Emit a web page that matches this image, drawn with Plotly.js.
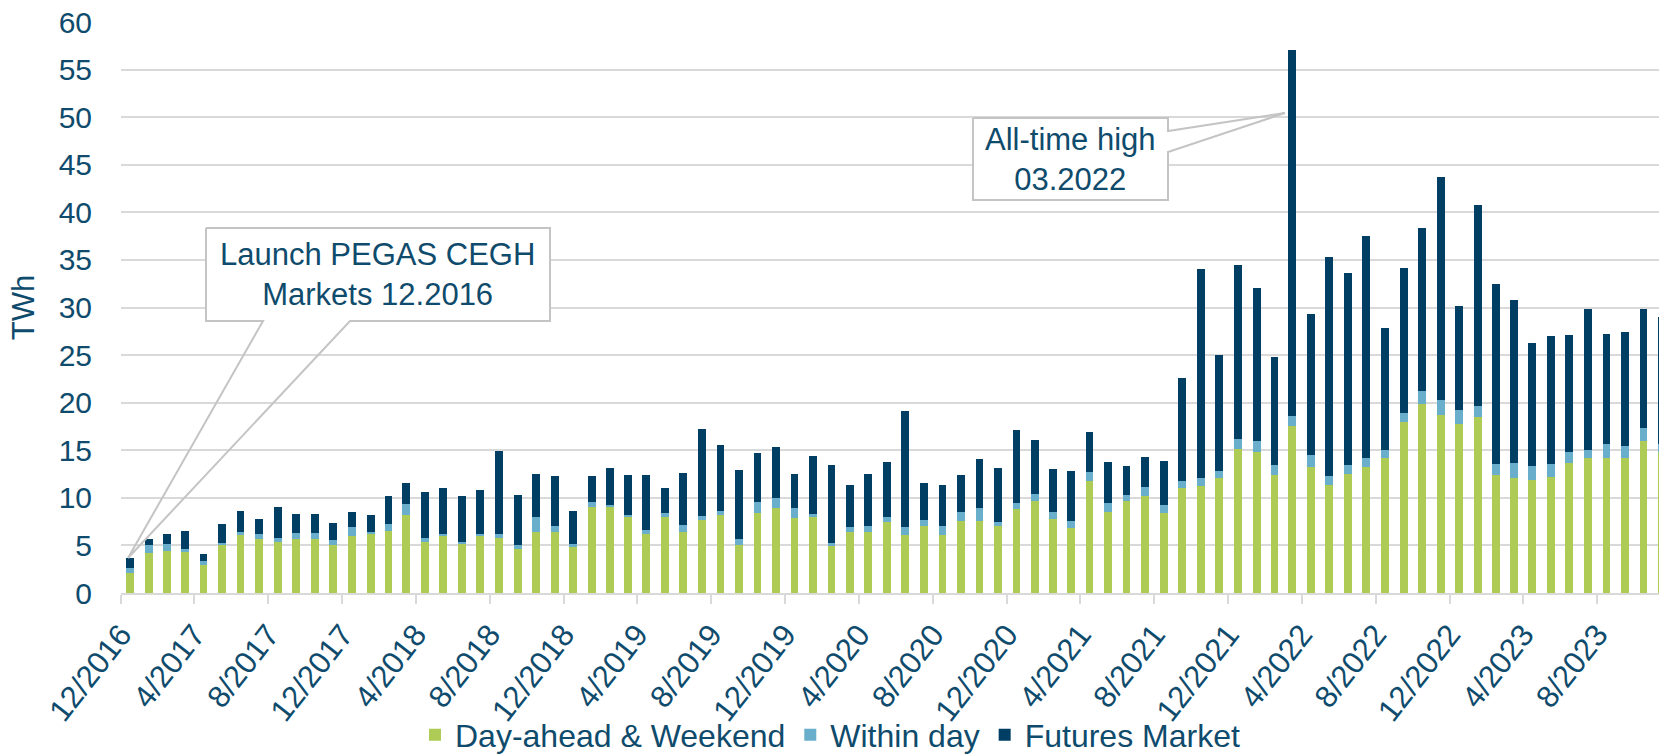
<!DOCTYPE html>
<html>
<head>
<meta charset="utf-8">
<script src="https://cdn.plot.ly/plotly-3.0.1.min.js"></script>
<style>
  html, body { margin: 0; padding: 0; background: #ffffff; }
  #chart { width: 1659px; height: 755px; }
</style>
</head>
<body>
<div id="chart"></div>
<script>
// Months (first of each month), 12/2016 .. 11/2023
const months = [
  "2016-12",
  "2017-01","2017-02","2017-03","2017-04","2017-05","2017-06","2017-07","2017-08","2017-09","2017-10","2017-11","2017-12",
  "2018-01","2018-02","2018-03","2018-04","2018-05","2018-06","2018-07","2018-08","2018-09","2018-10","2018-11","2018-12",
  "2019-01","2019-02","2019-03","2019-04","2019-05","2019-06","2019-07","2019-08","2019-09","2019-10","2019-11","2019-12",
  "2020-01","2020-02","2020-03","2020-04","2020-05","2020-06","2020-07","2020-08","2020-09","2020-10","2020-11","2020-12",
  "2021-01","2021-02","2021-03","2021-04","2021-05","2021-06","2021-07","2021-08","2021-09","2021-10","2021-11","2021-12",
  "2022-01","2022-02","2022-03","2022-04","2022-05","2022-06","2022-07","2022-08","2022-09","2022-10","2022-11","2022-12",
  "2023-01","2023-02","2023-03","2023-04","2023-05","2023-06","2023-07","2023-08","2023-09","2023-10","2023-11"
];

// Day-ahead & Weekend (TWh)
const dayAhead = [
  2.1,
  4.2, 4.4, 4.4, 2.9, 5.0, 6.1, 5.7, 5.4, 5.7, 5.7, 5.0, 6.0,
  6.2, 6.5, 8.2, 5.4, 5.95, 5.15, 5.95, 5.8, 4.6, 6.45, 6.45, 4.85,
  9.0, 9.0, 7.95, 6.2, 7.95, 6.45, 7.7, 8.15, 5.0, 8.4, 8.9, 7.85,
  7.95, 4.9, 6.4, 6.4, 7.45, 6.1, 7.0, 6.1, 7.55, 7.55, 7.0, 8.85,
  9.7, 7.75, 6.8, 11.75, 8.55, 9.7, 10.2, 8.45, 11.0, 11.25, 12.05, 15.1,
  14.85, 12.35, 17.55, 13.25, 11.35, 12.5, 13.25, 14.2, 18.0, 19.85, 18.75, 17.8,
  18.5, 12.45, 12.05, 11.9, 12.15, 13.65, 14.2, 14.2, 14.2, 15.95, 14.85
];

// Within day (TWh)
const withinDay = [
  0.5,
  0.8, 0.8, 0.2, 0.5, 0.25, 0.35, 0.5, 0.4, 0.6, 0.6, 0.6, 0.9,
  0.25, 0.8, 1.2, 0.4, 0.25, 0.25, 0.25, 0.4, 0.4, 1.5, 0.55, 0.3,
  0.55, 0.3, 0.25, 0.4, 0.5, 0.7, 0.4, 0.5, 0.7, 1.15, 1.1, 1.05,
  0.4, 0.4, 0.5, 0.6, 0.5, 0.8, 0.7, 0.9, 0.95, 1.35, 0.45, 0.65,
  0.7, 0.8, 0.8, 0.95, 0.95, 0.6, 0.9, 0.8, 0.8, 0.8, 0.8, 1.1,
  1.1, 1.05, 1.05, 1.25, 0.95, 0.9, 0.95, 0.8, 0.95, 1.35, 1.5, 1.4,
  1.2, 1.1, 1.6, 1.45, 1.4, 1.2, 0.8, 1.45, 1.25, 1.35, 0.85
];

// Futures Market (TWh)
const futures = [
  1.1,
  0.65, 0.95, 1.9, 0.7, 2.0, 2.2, 1.6, 3.2, 2.0, 2.0, 1.8, 1.6,
  1.75, 2.85, 2.15, 4.8, 4.8, 4.8, 4.6, 8.75, 5.35, 4.55, 5.25, 3.45,
  2.7, 3.8, 4.2, 5.8, 2.6, 5.5, 9.1, 6.85, 7.25, 5.15, 5.35, 3.6,
  6.05, 8.2, 4.4, 5.5, 5.8, 12.25, 3.85, 4.3, 3.95, 5.15, 5.65, 7.6,
  5.65, 4.45, 5.25, 4.2, 4.3, 3.0, 3.2, 4.65, 10.8, 22.0, 12.2, 18.3,
  16.1, 11.4, 38.5, 14.85, 23.0, 20.25, 23.35, 12.85, 15.25, 17.15, 23.5, 11.0,
  21.1, 18.9, 17.1, 12.9, 13.5, 12.25, 14.85, 11.55, 12.0, 12.55, 13.3
];

const seriesNames = ["Day-ahead & Weekend", "Within day", "Futures Market"];
const seriesColors = ["#AECB55", "#69AECB", "#003F63"];

// Tick labels: every fourth month, written as M/YYYY
const tickMonths = months.filter((m, i) => i % 4 === 0);
const tickLabels = tickMonths.map(m => {
  const [y, mo] = m.split("-");
  return parseInt(mo, 10) + "/" + y;
});

const textColor = "#0F4B6C";
const gridColor = "#D9D9D9";
const fontFamily = "'Liberation Sans', Arial, sans-serif";
const barWidthMs = 13 * 24 * 3600 * 1000;

const traces = [dayAhead, withinDay, futures].map((vals, k) => ({
  type: "bar",
  name: seriesNames[k],
  x: months,
  y: vals,
  xperiod: "M1",
  xperiodalignment: "middle",
  width: barWidthMs,
  marker: { color: seriesColors[k], line: { width: 0 } },
  hovertemplate: "%{x|%m/%Y}: %{y} TWh<extra>" + seriesNames[k] + "</extra>"
}));

// Plot area in pixels (for placing callouts in paper coordinates)
const W = 1659, H = 755;
const M = { l: 121, r: 0, t: 22, b: 162, autoexpand: false };
const pw = W - M.l - M.r, ph = H - M.t - M.b;
const px = x => ((x - M.l) / pw).toFixed(5);
const py = y => ((H - M.b - y) / ph).toFixed(5);
function pathFrom(pts) {
  return pts.map((p, i) => (i === 0 ? "M" : "L") + px(p[0]) + "," + py(p[1])).join(" ");
}

// Callout 1 (Launch PEGAS CEGH)
const c1 = { l: 206, r: 550, t: 228, b: 321 };
const c1outline = [[c1.l, c1.t], [c1.r, c1.t], [c1.r, c1.b], [350, c1.b], [128, 558], [263, c1.b], [c1.l, c1.b], [c1.l, c1.t]];
// Callout 2 (All-time high)
const c2 = { l: 973, r: 1168, t: 118, b: 200 };
const c2outline = [[c2.l, c2.t], [c2.r, c2.t], [c2.r, 131], [1285, 113], [c2.r, 152], [c2.r, c2.b], [c2.l, c2.b], [c2.l, c2.t]];

const shapes = [
  { type: "rect", xref: "paper", yref: "paper", layer: "above",
    x0: px(c1.l), x1: px(c1.r), y0: py(c1.b), y1: py(c1.t),
    fillcolor: "#FFFFFF", line: { width: 0 } },
  { type: "path", xref: "paper", yref: "paper", layer: "above",
    path: pathFrom(c1outline), line: { color: "#C4C4C4", width: 2 } },
  { type: "rect", xref: "paper", yref: "paper", layer: "above",
    x0: px(c2.l), x1: px(c2.r), y0: py(c2.b), y1: py(c2.t),
    fillcolor: "#FFFFFF", line: { width: 0 } },
  { type: "path", xref: "paper", yref: "paper", layer: "above",
    path: pathFrom(c2outline), line: { color: "#C4C4C4", width: 2 } }
];

const annotations = [
  { xref: "paper", yref: "paper", x: px((c1.l + c1.r) / 2), y: py((c1.t + c1.b) / 2),
    xanchor: "center", yanchor: "middle", showarrow: false, align: "center",
    text: "Launch PEGAS CEGH<br>Markets 12.2016",
    font: { family: fontFamily, size: 31, color: textColor } },
  { xref: "paper", yref: "paper", x: px((c2.l + c2.r) / 2), y: py((c2.t + c2.b) / 2),
    xanchor: "center", yanchor: "middle", showarrow: false, align: "center",
    text: "All-time high<br>03.2022",
    font: { family: fontFamily, size: 31, color: textColor } }
];

const layout = {
  width: W, height: H,
  margin: M,
  paper_bgcolor: "#FFFFFF",
  plot_bgcolor: "#FFFFFF",
  barmode: "stack",
  font: { family: fontFamily, color: textColor, size: 30 },
  showlegend: true,
  legend: {
    orientation: "h",
    x: px(830), xanchor: "center",
    y: py(735), yanchor: "middle",
    bgcolor: "rgba(0,0,0,0)",
    font: { family: fontFamily, size: 32, color: textColor },
    traceorder: "normal",
    itemwidth: 30
  },
  xaxis: {
    type: "date",
    range: ["2016-12-01", "2023-11-11"],
    tickmode: "array",
    tickvals: tickMonths,
    ticktext: tickLabels,
    tickangle: -52,
    ticks: "outside",
    ticklen: 9,
    tickwidth: 2,
    tickcolor: gridColor,
    showline: true,
    linecolor: gridColor,
    linewidth: 2,
    showgrid: false,
    zeroline: false,
    tickfont: { family: fontFamily, size: 31, color: textColor }
  },
  yaxis: {
    range: [0, 60],
    tickmode: "linear",
    tick0: 0,
    dtick: 5,
    ticks: "",
    showgrid: true,
    gridcolor: gridColor,
    gridwidth: 2,
    zeroline: false,
    showline: false,
    ticklabelstandoff: 28,
    tickfont: { family: fontFamily, size: 30, color: textColor },
    title: { text: "TWh", font: { family: fontFamily, size: 31, color: textColor }, standoff: 14 }
  },
  shapes: shapes,
  annotations: annotations
};

Plotly.newPlot("chart", traces, layout, { displayModeBar: false, responsive: false });
</script>
</body>
</html>
